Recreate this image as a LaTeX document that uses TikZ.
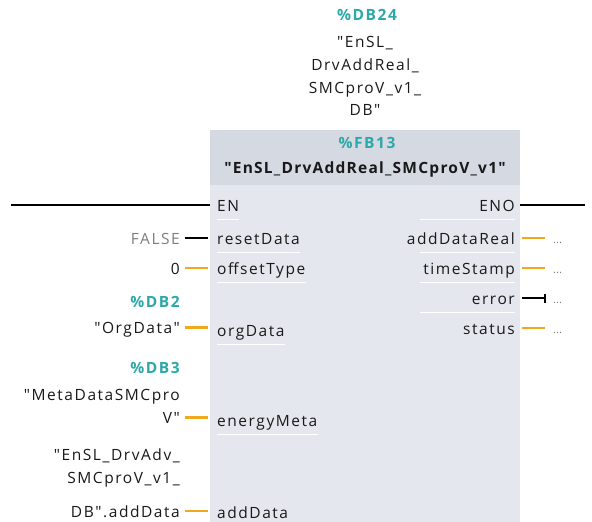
\documentclass[tikz,border=0pt]{standalone}
\usepackage{fontspec}
\setmainfont{Open Sans}[Ligatures=TeXOff]
\usetikzlibrary{arrows.meta}
\definecolor{tealc}{RGB}{45,168,168}
\definecolor{orangec}{RGB}{240,168,30}
\definecolor{bodyc}{RGB}{229,231,238}
\definecolor{headc}{RGB}{213,217,226}
\definecolor{grayt}{RGB}{125,125,125}
\definecolor{textc}{RGB}{25,25,25}
\newcommand\pinfont{\fontsize{15.5}{18}\selectfont\addfontfeature{LetterSpace=10}}
\tikzset{
  lbl/.style={font=\pinfont, text=textc, inner ysep=0pt},
  tl/.style={lbl, font=\pinfont\bfseries, text=tealc},
  lpin/.style={lbl, anchor=base west, inner xsep=7pt},
  rpin/.style={lbl, anchor=base east, inner xsep=5pt},
  val/.style={lbl, anchor=base east, inner xsep=5pt},
  ctr/.style={lbl, anchor=base},
  dots/.style={font=\fontsize{11}{12}\selectfont, text=grayt, anchor=base west, inner sep=0pt},
  bw/.style={line width=2pt, black},
  ow/.style={line width=2.5pt, orangec},
  ul/.style={line width=1pt, white},
}
\begin{document}
\begin{tikzpicture}[x=1pt,y=-1pt]
\useasboundingbox (0,0) rectangle (592,522);
% block
\fill[bodyc] (210,130) rectangle (520,522);
\fill[headc] (210,130) rectangle (520,185);
% instance DB label
\node[tl, anchor=base] (db24) at (367,20.5) {\%DB24};
\node[ctr] (i1) at (365,47.5) {"EnSL\_};
\node[ctr] (i2) at (365,70.5) {DrvAddReal\_};
\node[ctr] (i3) at (365,93.5) {SMCproV\_v1\_};
\node[ctr] (i4) at (365,115.5) {DB"};
% header
\node[tl, anchor=base] (fb) at (367,148.5) {\%FB13};
\node[lbl, anchor=base, font=\pinfont\bfseries\addfontfeature{LetterSpace=8}] (fbname) at (365,173.5) {"EnSL\_DrvAddReal\_SMCproV\_v1"};
% left pins
\node[lpin] (en) at (210,211) {EN};
\node[lpin] (reset) at (210,244) {resetData};
\node[lpin] (offs) at (210,274) {offsetType};
\node[lpin] (org) at (210,336) {orgData};
\node[lpin] (meta) at (210,426) {energyMeta};
\node[lpin] (add) at (210,518) {addData};
\foreach \p in {en,reset,offs,org,meta}
  \draw[ul] ([xshift=7pt,yshift=-8pt]\p.base west) -- ([xshift=-7pt,yshift=-8pt]\p.base east);
% right pins
\node[rpin] (eno) at (520,211) {ENO};
\node[rpin] (adr) at (520,244) {addDataReal};
\node[rpin] (ts) at (520,274) {timeStamp};
\node[rpin] (err) at (520,304) {error};
\node[rpin] (st) at (520,334) {status};
\foreach \p in {eno,adr,ts,err}
  \draw[ul] ([xshift=-5pt,yshift=-8pt]\p.base east) -- ++(-95,0);
% left values
\coordinate (enin) at (11,205);
\node[val, text=grayt] (vfalse) at (185,244) {FALSE};
\node[val] (vzero) at (185,274) {0};
\node[tl, anchor=base east, inner xsep=5pt] (db2) at (185,307.5) {\%DB2};
\node[val] (vorg) at (185,333.5) {"OrgData"};
\node[tl, anchor=base east, inner xsep=5pt] (db3) at (185,373.5) {\%DB3};
\node[val] (vm1) at (185,400.5) {"MetaDataSMCpro};
\node[val] (vm2) at (185,423.5) {V"};
\node[val] (va1) at (185,460.5) {"EnSL\_DrvAdv\_};
\node[val] (va2) at (185,483.5) {SMCproV\_v1\_};
\node[val] (va3) at (185,517) {DB".addData};
% left connectors
\draw[bw] (enin) -- ([yshift=6pt]en.base west);
\draw[bw] ([yshift=6pt]vfalse.base east) -- ([xshift=-2pt,yshift=6pt]reset.base west);
\draw[ow] ([yshift=6pt]vzero.base east) -- ([xshift=-2pt,yshift=6pt]offs.base west);
\draw[ow] ([yshift=6pt]vorg.base east) -- ([xshift=-2pt,yshift=6pt]vorg.base east -| org.west);
\draw[ow] ([yshift=6pt]vm2.base east) -- ([xshift=-2pt,yshift=6pt]vm2.base east -| meta.west);
\draw[ow] ([yshift=6pt]va3.base east) -- ([xshift=-2pt,yshift=6pt]va3.base east -| add.west);
% right connectors
\coordinate (enoout) at (585,205);
\draw[bw] ([yshift=6pt]eno.base east) -- (enoout);
\node[dots] (d1) at (553,243) {...};
\node[dots] (d2) at (553,273) {...};
\node[dots] (d3) at (553,303) {...};
\node[dots] (d4) at (553,333) {...};
\draw[ow] ([xshift=2pt,yshift=6pt]adr.base east) -- ([xshift=-8pt,yshift=6pt]adr.base east -| d1.west);
\draw[ow] ([xshift=2pt,yshift=6pt]ts.base east) -- ([xshift=-8pt,yshift=6pt]ts.base east -| d2.west);
\draw[bw, -{Bar[width=9pt,line width=2pt]}] ([xshift=2pt,yshift=6pt]err.base east) -- ([xshift=-7pt,yshift=6pt]err.base east -| d3.west);
\draw[ow] ([xshift=2pt,yshift=6pt]st.base east) -- ([xshift=-8pt,yshift=6pt]st.base east -| d4.west);
\end{tikzpicture}
\end{document}
